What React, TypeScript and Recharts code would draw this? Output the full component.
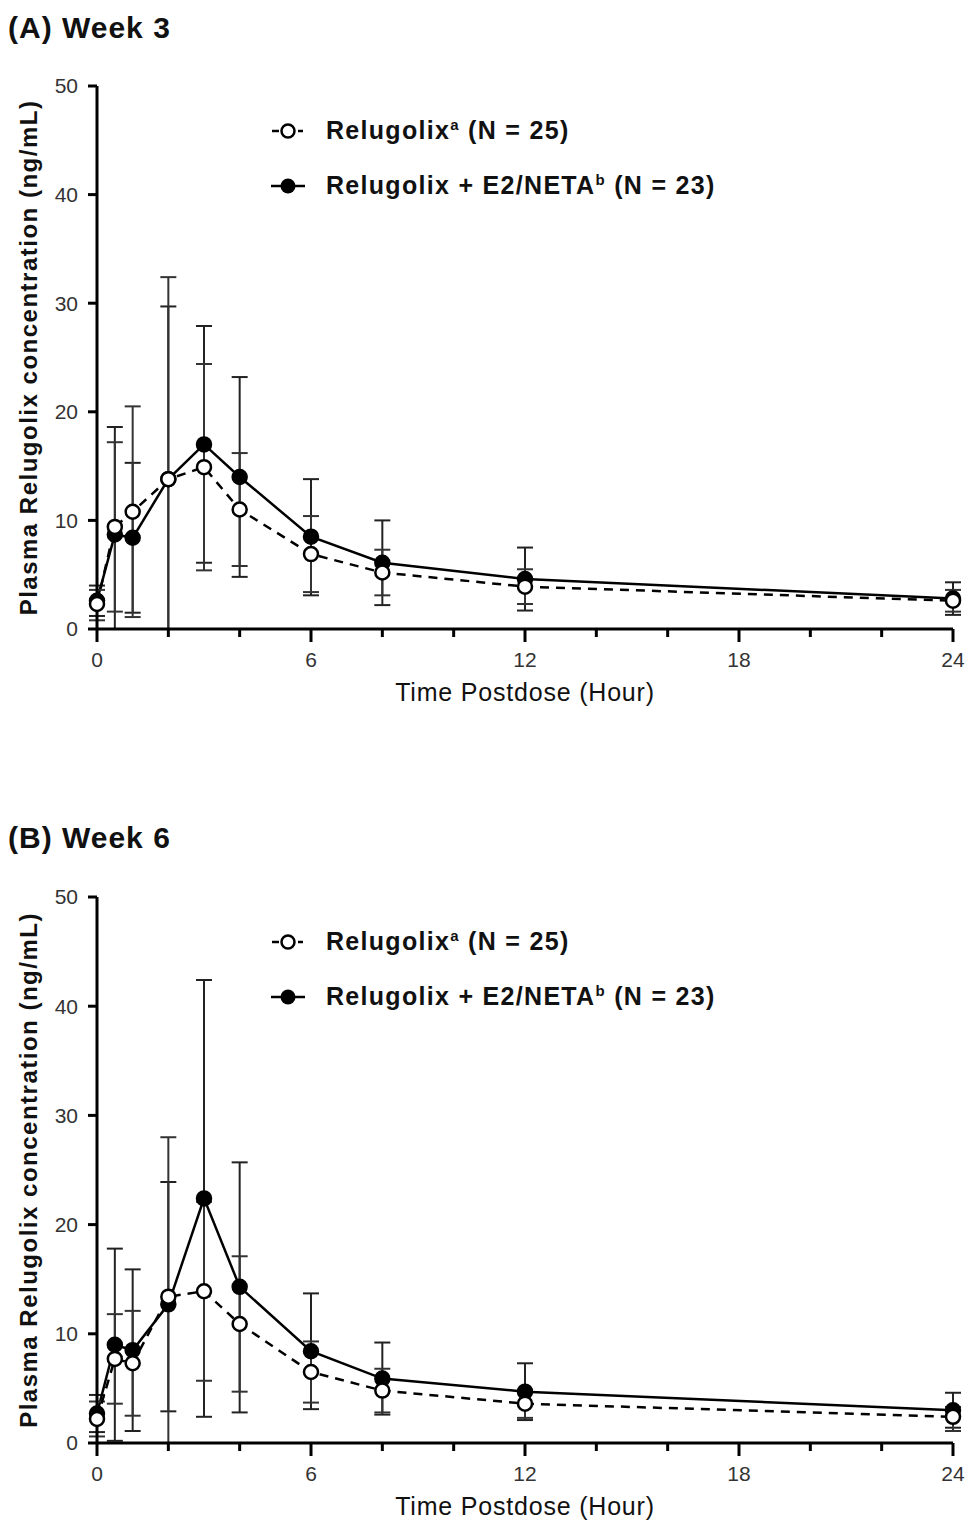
import React from 'react';
import { LineChart, Line, XAxis, YAxis, ErrorBar, Legend } from 'recharts';

const FONT = '"Liberation Sans", Arial, sans-serif';

// sampling times (hours postdose)
const hours = [0, 0.5, 1, 2, 3, 4, 6, 8, 12, 24];
const xTicks = [0, 2, 4, 6, 8, 10, 12, 14, 16, 18, 20, 22, 24];
const yTicks = [0, 10, 20, 30, 40, 50];

// (A) Week 3 - mean and error bar ends
const w3Rel = [2.3, 9.4, 10.8, 13.8, 14.9, 11.0, 6.9, 5.2, 3.9, 2.6];
const w3RelLo = [0.8, 1.6, 1.1, 0, 5.4, 5.8, 3.4, 3.1, 2.3, 1.6];
const w3RelHi = [3.6, 17.2, 20.5, 32.4, 24.4, 16.2, 10.4, 7.3, 5.5, 3.6];
const w3Combo = [2.6, 8.7, 8.4, 13.8, 17.0, 14.0, 8.5, 6.1, 4.6, 2.8];
const w3ComboLo = [1.2, 0, 1.5, 0, 6.1, 4.8, 3.1, 2.2, 1.7, 1.3];
const w3ComboHi = [4.0, 18.6, 15.3, 29.7, 27.9, 23.2, 13.8, 10.0, 7.5, 4.3];

// (B) Week 6
const w6Rel = [2.2, 7.7, 7.3, 13.4, 13.9, 10.9, 6.5, 4.8, 3.6, 2.4];
const w6RelLo = [0.6, 3.6, 2.5, 0, 5.7, 4.7, 3.7, 2.8, 2.3, 1.1];
const w6RelHi = [3.8, 11.8, 12.1, 28.0, 22.1, 17.1, 9.3, 6.8, 4.9, 3.3];
const w6Combo = [2.7, 9.0, 8.5, 12.7, 22.4, 14.3, 8.4, 5.9, 4.7, 3.0];
const w6ComboLo = [1.0, 0.2, 1.1, 2.9, 2.4, 2.8, 3.1, 2.6, 2.1, 1.4];
const w6ComboHi = [4.4, 17.8, 15.9, 23.9, 42.4, 25.7, 13.7, 9.2, 7.3, 4.6];

const XTick = (props: any) => {
  const { x, y, payload } = props;
  const major = payload.value % 6 === 0;
  return (
    <g>
      <line x1={x} x2={x} y1={y} y2={y + (major ? 13 : 8)} stroke="#000" strokeWidth={3} />
      {major && (
        <text x={x} y={y + 38} textAnchor="middle" fontSize={21} fontFamily={FONT} fill="#333">
          {payload.value}
        </text>
      )}
    </g>
  );
};

const YLabel = (props: any) => {
  const vb = props.viewBox;
  const cx = 28;
  const cy = vb.y + vb.height / 2;
  return (
    <text
      x={cx}
      y={cy}
      transform={`rotate(-90, ${cx}, ${cy})`}
      textAnchor="middle"
      dominantBaseline="central"
      fontSize={24}
      fontWeight={700}
      letterSpacing={1.5}
      fontFamily={FONT}
      fill="#111"
    >
      Plasma Relugolix concentration (ng/mL)
    </text>
  );
};

const LegendBox = () => (
  <div style={{ fontFamily: FONT, fontWeight: 700, fontSize: 25, letterSpacing: 1.3, color: '#111', whiteSpace: 'nowrap' }}>
    <div style={{ display: 'flex', alignItems: 'center', height: 55 }}>
      <svg width={40} height={20}>
        <line x1={2} x2={9} y1={10} y2={10} stroke="#000" strokeWidth={2.5} />
        <line x1={28} x2={33} y1={10} y2={10} stroke="#000" strokeWidth={2.5} />
        <circle cx={18} cy={10} r={6.5} fill="#fff" stroke="#000" strokeWidth={2.5} />
      </svg>
      <span style={{ marginLeft: 16 }}>
        Relugolix<sup style={{ fontSize: 15 }}>a</sup> (N = 25)
      </span>
    </div>
    <div style={{ display: 'flex', alignItems: 'center', height: 55 }}>
      <svg width={40} height={20}>
        <line x1={1} x2={35} y1={10} y2={10} stroke="#000" strokeWidth={2.5} />
        <circle cx={18} cy={10} r={7.5} fill="#000" />
      </svg>
      <span style={{ marginLeft: 16 }}>
        Relugolix + E2/NETA<sup style={{ fontSize: 15 }}>b</sup> (N = 23)
      </span>
    </div>
  </div>
);

function Panel(p: any) {
  const data = hours.map((h, i) => ({
    h,
    rel: p.rel[i],
    relErr: [p.rel[i] - p.relLo[i], p.relHi[i] - p.rel[i]],
    combo: p.combo[i],
    comboErr: [p.combo[i] - p.comboLo[i], p.comboHi[i] - p.combo[i]],
  }));
  const chartH = 760;
  const axisH = 80;
  return (
    <div style={{ position: 'absolute', left: 0, top: p.top, width: 965, height: chartH }}>
      <div
        style={{
          position: 'absolute',
          left: 8,
          top: 9,
          fontFamily: FONT,
          fontWeight: 700,
          fontSize: 30,
          letterSpacing: 1,
          color: '#111',
          lineHeight: '38px',
        }}
      >
        {p.title}
      </div>
      <LineChart
        width={965}
        height={chartH}
        data={data}
        margin={{ top: p.plotTop, right: 12, left: 0, bottom: chartH - p.plotTop - p.plotH - axisH }}
      >
        <XAxis
          dataKey="h"
          type="number"
          domain={[0, 24]}
          ticks={xTicks}
          interval={0}
          height={axisH}
          tickSize={0}
          tickMargin={0}
          tickLine={false}
          axisLine={{ stroke: '#000', strokeWidth: 3 }}
          tick={<XTick />}
          label={{
            value: 'Time Postdose (Hour)',
            position: 'insideBottom',
            offset: 8,
            fontSize: 25,
            letterSpacing: 0.8,
            fontFamily: FONT,
            fill: '#111',
          }}
        />
        <YAxis
          width={97}
          type="number"
          domain={[0, 50]}
          ticks={yTicks}
          interval={0}
          tickSize={9}
          tickMargin={10}
          axisLine={{ stroke: '#000', strokeWidth: 3 }}
          tickLine={{ stroke: '#000', strokeWidth: 3 }}
          tick={{ fontSize: 21, fontFamily: FONT, fill: '#333' }}
          label={<YLabel />}
        />
        <Legend
          content={<LegendBox />}
          layout="vertical"
          verticalAlign="middle"
          align="center"
          wrapperStyle={{ left: 270, top: p.legendTop, width: 'auto', height: 'auto' }}
        />
        <Line
          dataKey="combo"
          stroke="#000"
          strokeWidth={2.5}
          dot={{ r: 7.5, fill: '#000', stroke: '#000', strokeWidth: 1.5 }}
          isAnimationActive={false}
        >
          <ErrorBar dataKey="comboErr" width={8} stroke="#222" strokeWidth={2} direction="y" />
        </Line>
        <Line
          dataKey="rel"
          stroke="#000"
          strokeWidth={2.5}
          strokeDasharray="9 7"
          dot={{ r: 7, fill: '#fff', stroke: '#000', strokeWidth: 2.5, strokeDasharray: 'none' }}
          isAnimationActive={false}
        >
          <ErrorBar dataKey="relErr" width={8} stroke="#333" strokeWidth={2} direction="y" />
        </Line>
      </LineChart>
    </div>
  );
}

export default function App() {
  return (
    <div style={{ position: 'absolute', left: 0, top: 0, width: 965, height: 1527, background: '#fff' }}>
      <Panel
        title="(A) Week 3"
        top={0}
        plotTop={86}
        plotH={543}
        legendTop={103}
        rel={w3Rel}
        relLo={w3RelLo}
        relHi={w3RelHi}
        combo={w3Combo}
        comboLo={w3ComboLo}
        comboHi={w3ComboHi}
      />
      <Panel
        title="(B) Week 6"
        top={810}
        plotTop={87}
        plotH={546}
        legendTop={104}
        rel={w6Rel}
        relLo={w6RelLo}
        relHi={w6RelHi}
        combo={w6Combo}
        comboLo={w6ComboLo}
        comboHi={w6ComboHi}
      />
    </div>
  );
}
